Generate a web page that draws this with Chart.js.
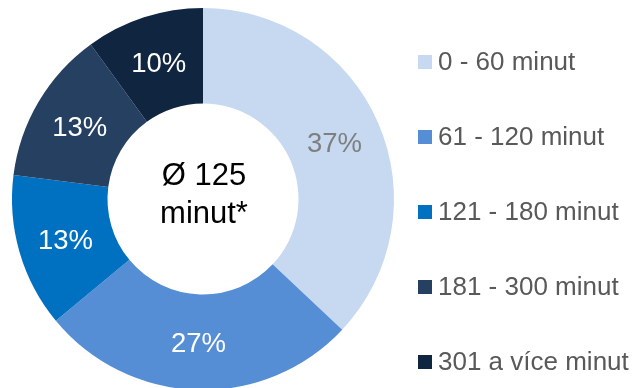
<!DOCTYPE html>
<html>
<head>
<meta charset="utf-8">
<script src="https://cdn.jsdelivr.net/npm/chart.js@4/dist/chart.umd.min.js"></script>
<style>
  html, body { margin: 0; padding: 0; background: #fff; }
  #wrap { width: 638px; height: 388px; overflow: hidden; position: relative; }
  #c { display: block; }
</style>
</head>
<body>
<div id="wrap"><canvas id="c" width="638" height="392"></canvas></div>
<script>
// Categories, shares (%) and styling for the duration breakdown
const categories = ['0 - 60 minut', '61 - 120 minut', '121 - 180 minut', '181 - 300 minut', '301 a více minut'];
const shares = [37, 27, 13, 13, 10];
const sliceColors = ['#C6D9F1', '#558ED5', '#0070C0', '#254061', '#10253F'];
const labelColors = ['#7F7F7F', '#FFFFFF', '#FFFFFF', '#FFFFFF', '#FFFFFF'];
const centerLines = ['Ø 125', 'minut*'];

const FONT = '"Liberation Sans", Arial, Helvetica, sans-serif';

// Percent labels in the middle of each ring segment, plus the centre caption
const ringText = {
  id: 'ringText',
  afterDatasetsDraw(chart) {
    const ctx = chart.ctx;
    const meta = chart.getDatasetMeta(0);
    ctx.save();
    ctx.textAlign = 'center';
    ctx.textBaseline = 'middle';
    ctx.font = '27.5px ' + FONT;
    meta.data.forEach((arc, i) => {
      const p = arc.tooltipPosition();
      ctx.fillStyle = labelColors[i];
      ctx.fillText(shares[i] + '%', p.x, p.y + 2);
    });
    const a = meta.data[0];
    ctx.fillStyle = '#000000';
    ctx.font = '31px ' + FONT;
    ctx.textBaseline = 'alphabetic';
    ctx.fillText(centerLines[0], a.x + 1, a.y - 14);
    ctx.fillText(centerLines[1], a.x + 1, a.y + 24);
    ctx.restore();
  }
};

// Legend column at the right
const sideLegend = {
  id: 'sideLegend',
  afterDraw(chart) {
    const ctx = chart.ctx;
    ctx.save();
    ctx.font = '26px ' + FONT;
    ctx.textBaseline = 'middle';
    ctx.textAlign = 'left';
    categories.forEach((name, i) => {
      const cy = 62 + i * 75;
      ctx.fillStyle = sliceColors[i];
      ctx.fillRect(418, cy - 7, 14, 14);
      ctx.fillStyle = '#595959';
      ctx.fillText(name, 438, cy + 1);
    });
    ctx.restore();
  }
};

new Chart(document.getElementById('c'), {
  type: 'doughnut',
  data: {
    labels: categories,
    datasets: [{
      data: shares,
      backgroundColor: sliceColors,
      borderWidth: 0,
      hoverOffset: 0
    }]
  },
  options: {
    responsive: false,
    animation: false,
    cutout: '50%',
    layout: { padding: { left: 12, top: 8, right: 244, bottom: 2 } },
    plugins: {
      legend: { display: false },
      tooltip: { enabled: false }
    }
  },
  plugins: [ringText, sideLegend]
});
</script>
</body>
</html>
